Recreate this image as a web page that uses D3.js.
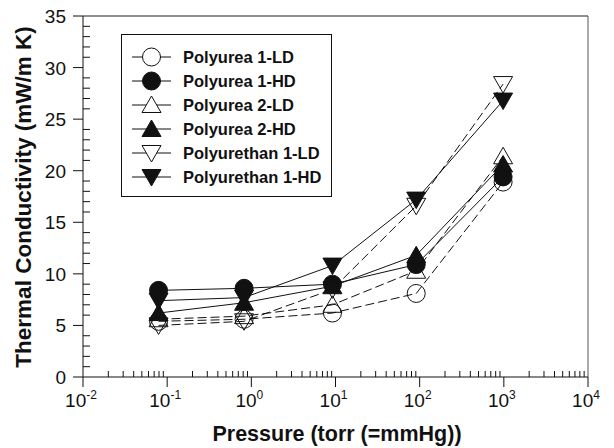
<!DOCTYPE html>
<html>
<head>
<meta charset="utf-8">
<script src="https://cdn.jsdelivr.net/npm/d3@7"></script>
<style>
  html, body { margin: 0; padding: 0; background: #fff; }
  svg { display: block; }
  text { font-family: "Liberation Sans", Arial, Helvetica, sans-serif; fill: #111; }
</style>
</head>
<body>
<svg id="chart" width="614" height="448"></svg>
<script>
// Pressure (torr) at which each sample was measured
const pressures = [0.079, 0.82, 9.2, 91, 980];

// Thermal conductivity (mW/m K) per sample
const polyurea1LD    = [5.4, 5.6, 6.2, 8.1, 18.9];
const polyurea1HD    = [8.4, 8.6, 9.0, 10.9, 19.4];
const polyurea2LD    = [5.6, 5.9, 7.0, 10.3, 21.4];
const polyurea2HD    = [6.2, 7.2, 8.8, 11.8, 20.6];
const polyurethan1LD = [5.0, 5.4, 8.5, 16.6, 28.4];
const polyurethan1HD = [7.4, 7.7, 10.8, 17.2, 26.8];

const seriesNames = ["Polyurea 1-LD", "Polyurea 1-HD", "Polyurea 2-LD",
                     "Polyurea 2-HD", "Polyurethan 1-LD", "Polyurethan 1-HD"];
const seriesValues = [polyurea1LD, polyurea1HD, polyurea2LD,
                      polyurea2HD, polyurethan1LD, polyurethan1HD];
const seriesShapes = ["circle", "circle", "up", "up", "down", "down"];
const seriesFilled = [false, true, false, true, false, true];

const xTickExponents = [-2, -1, 0, 1, 2, 3, 4];
const yTickValues = [0, 5, 10, 15, 20, 25, 30, 35];

const svg = d3.select("#chart");
const plotL = 83, plotR = 588, plotT = 16, plotB = 377;

const x = d3.scaleLog().domain([1e-2, 1e4]).range([plotL, plotR]);
const y = d3.scaleLinear().domain([0, 35]).range([plotB, plotT]);

// Frame: top and right edges
svg.append("line").attr("x1", plotL).attr("x2", plotR).attr("y1", plotT).attr("y2", plotT)
  .attr("stroke", "#222").attr("stroke-width", 1);
svg.append("line").attr("x1", plotR).attr("x2", plotR).attr("y1", plotT).attr("y2", plotB)
  .attr("stroke", "#555").attr("stroke-width", 1);

// X axis: major ticks outward, minor ticks inward
const xAxis = svg.append("g").attr("transform", `translate(0,${plotB})`);
xAxis.append("line").attr("x1", plotL).attr("x2", plotR).attr("stroke", "#111");
const xMajor = xTickExponents.map(e => Math.pow(10, e));
const xMinor = [];
for (let e = -2; e < 4; e++) for (let m = 2; m <= 9; m++) xMinor.push(m * Math.pow(10, e));
xAxis.selectAll(".xmaj").data(xMajor).join("line")
  .attr("x1", d => x(d)).attr("x2", d => x(d)).attr("y1", 0).attr("y2", 10)
  .attr("stroke", "#111");
xAxis.selectAll(".xmin").data(xMinor).join("line")
  .attr("x1", d => x(d)).attr("x2", d => x(d)).attr("y1", 0).attr("y2", -6)
  .attr("stroke", "#111");
const xLab = xAxis.selectAll(".xlab").data(xTickExponents).join("text")
  .attr("x", d => x(Math.pow(10, d)) - 2).attr("y", 30)
  .attr("text-anchor", "middle").attr("font-size", 19);
xLab.append("tspan").text("10");
xLab.append("tspan").attr("font-size", 12).attr("dy", -8).text(d => d);

// Y axis: major ticks outward, minor ticks inward
const yAxis = svg.append("g").attr("transform", `translate(${plotL},0)`);
yAxis.append("line").attr("y1", plotT).attr("y2", plotB).attr("stroke", "#111");
yAxis.selectAll(".ymaj").data(yTickValues).join("line")
  .attr("y1", d => y(d)).attr("y2", d => y(d)).attr("x1", -10).attr("x2", 0)
  .attr("stroke", "#111");
yAxis.selectAll(".ymin").data(d3.range(1, 35).filter(v => v % 5 !== 0)).join("line")
  .attr("y1", d => y(d)).attr("y2", d => y(d)).attr("x1", 0).attr("x2", 7)
  .attr("stroke", "#111");
yAxis.selectAll(".ylab").data(yTickValues).join("text")
  .attr("x", -17).attr("y", d => y(d) + 7)
  .attr("text-anchor", "end").attr("font-size", 19).text(d => d);

// Axis titles
svg.append("text").attr("x", 337).attr("y", 441).attr("text-anchor", "middle")
  .attr("font-size", 21.5).attr("font-weight", "bold").text("Pressure (torr (=mmHg))");
svg.append("text").attr("transform", "translate(31,197) rotate(-90)")
  .attr("text-anchor", "middle").attr("font-size", 22.5).attr("font-weight", "bold")
  .text("Thermal Conductivity (mW/m K)");

// Marker path generator
function markerPath(shape) {
  if (shape === "circle") return d3.arc()({innerRadius: 0, outerRadius: 9, startAngle: 0, endAngle: 2 * Math.PI});
  if (shape === "up") return "M0,-9L9.5,7.5L-9.5,7.5Z";
  return "M0,9L9.5,-7.5L-9.5,-7.5Z";
}

// Lines then markers, series by series
const line = d3.line().x(d => x(d[0])).y(d => y(d[1]));
seriesValues.forEach((vals, i) => {
  const pts = pressures.map((p, j) => [p, vals[j]]);
  svg.append("path").attr("d", line(pts)).attr("fill", "none")
    .attr("stroke", "#111").attr("stroke-width", 1)
    .attr("stroke-dasharray", seriesFilled[i] ? null : "9,4");
  svg.selectAll(null).data(pts).join("path")
    .attr("d", markerPath(seriesShapes[i]))
    .attr("transform", d => `translate(${x(d[0])},${y(d[1])})`)
    .attr("fill", seriesFilled[i] ? "#111" : "none")
    .attr("stroke", "#111").attr("stroke-width", 1);
});

// Legend
const legend = svg.append("g");
legend.append("rect").attr("x", 121.5).attr("y", 34.5).attr("width", 210).attr("height", 162)
  .attr("fill", "#fff").attr("stroke", "#111");
seriesNames.forEach((name, i) => {
  const ly = 57 + i * 24;
  legend.append("line").attr("x1", 132).attr("x2", 171).attr("y1", ly).attr("y2", ly)
    .attr("stroke", "#111");
  legend.append("path").attr("d", markerPath(seriesShapes[i]))
    .attr("transform", `translate(151.5,${ly})`)
    .attr("fill", seriesFilled[i] ? "#111" : "#fff").attr("stroke", "#111");
  legend.append("text").attr("x", 183).attr("y", ly + 6).attr("font-size", 16.5)
    .attr("font-weight", "bold").text(name);
});
</script>
</body>
</html>
